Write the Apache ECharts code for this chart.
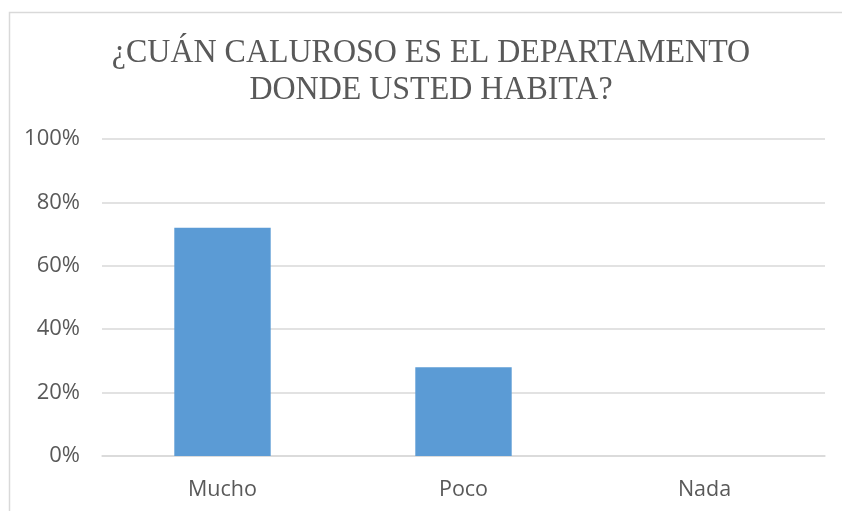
<!DOCTYPE html>
<html><head><meta charset="utf-8">
<script src="https://cdn.jsdelivr.net/npm/echarts@6/dist/echarts.min.js"></script>
<style>html,body{margin:0;padding:0;background:#fff}#c{width:842px;height:511px}</style>
</head><body><div id="c"></div>
<script>
const titleText = "¿CUÁN CALUROSO ES EL DEPARTAMENTO\nDONDE USTED HABITA?";
const categories = ["Mucho", "Poco", "Nada"];
const values = [72, 28, 0];
const yTicks = [0, 20, 40, 60, 80, 100];

const chart = echarts.init(document.getElementById('c'), null, {renderer: 'canvas'});
chart.setOption({
  animation: false,
  backgroundColor: '#fff',
  graphic: [{
    type: 'rect', left: 7, top: 10, shape: {width: 860, height: 520},
    style: {fill: 'none', stroke: '#D9D9D9', lineWidth: 1.5}, silent: true
  }, {
    type: 'text', x: 431, y: 35, scaleX: 0.94, silent: true,
    style: {text: titleText, fontFamily: 'Liberation Serif', fontSize: 34, fill: '#595959',
      lineHeight: 37, textAlign: 'center', textVerticalAlign: 'top'}
  }],
  grid: {left: 102, right: 17, top: 139, bottom: 55},
  xAxis: {
    type: 'category', data: categories,
    axisLine: {show: true, lineStyle: {color: '#D9D9D9', width: 1.5}},
    axisTick: {show: false},
    axisLabel: {fontFamily: 'Open Sans', fontSize: 21.5, color: '#595959', margin: 23}
  },
  yAxis: {
    type: 'value', min: 0, max: 100, interval: 20,
    axisLine: {show: false}, axisTick: {show: false},
    splitLine: {lineStyle: {color: '#D9D9D9', width: 1.5}},
    axisLabel: {fontFamily: 'Open Sans', fontSize: 22, color: '#595959', margin: 22,
      formatter: v => yTicks.includes(v) ? v + '%' : ''}
  },
  series: [{
    type: 'bar', data: values, barWidth: '40%',
    itemStyle: {color: '#5B9BD5'}
  }]
});
</script></body></html>
